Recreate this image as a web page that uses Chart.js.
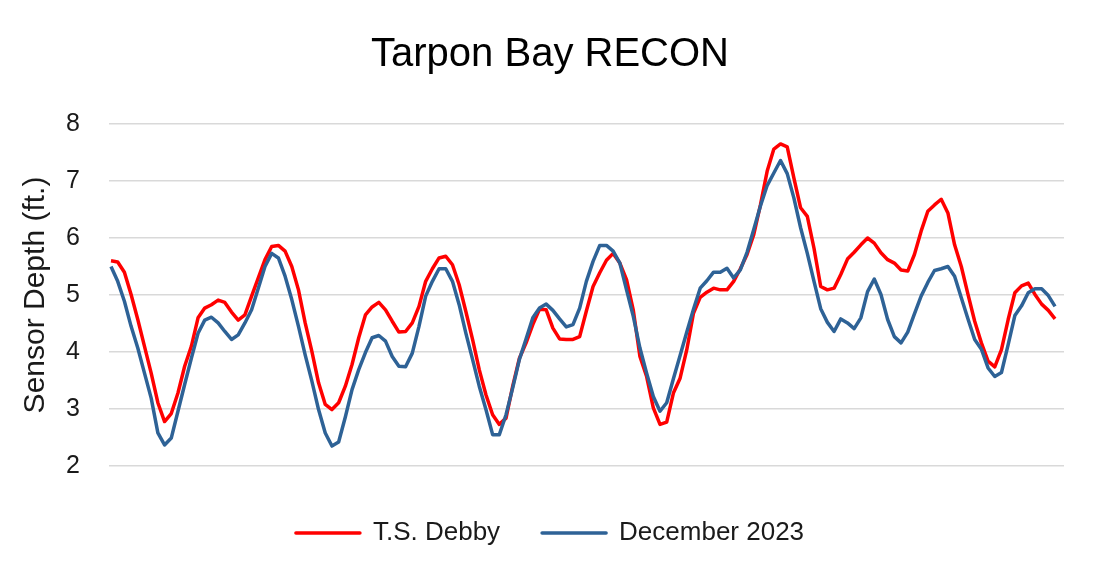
<!DOCTYPE html>
<html lang="en">
<head>
<meta charset="utf-8">
<title>Tarpon Bay RECON</title>
<script src="https://cdn.jsdelivr.net/npm/chart.js@4.4.1/dist/chart.umd.min.js"></script>
<style>
  html, body { margin: 0; padding: 0; background: #fff; }
  #grafico { display: block; }
</style>
</head>
<body>
<canvas id="grafico" width="1100" height="581"></canvas>
<script>
// ── Dados (profundidade do sensor, leitura horária) ─────────────
const tsDebby = [
    5.60, 5.58, 5.40, 5.01, 4.57, 4.10, 3.63, 3.11, 2.78, 2.92,
    3.28, 3.75, 4.10, 4.60, 4.77, 4.83, 4.91, 4.87, 4.70, 4.56,
    4.65, 4.98, 5.30, 5.62, 5.85, 5.87, 5.77, 5.50, 5.09, 4.51,
    4.01, 3.46, 3.08, 2.99, 3.11, 3.40, 3.78, 4.25, 4.65, 4.79,
    4.87, 4.74, 4.54, 4.35, 4.36, 4.51, 4.80, 5.24, 5.46, 5.65,
    5.68, 5.53, 5.18, 4.71, 4.22, 3.69, 3.25, 2.90, 2.73, 2.84,
    3.40, 3.89, 4.16, 4.48, 4.75, 4.74, 4.42, 4.23, 4.22, 4.22,
    4.27, 4.72, 5.15, 5.39, 5.61, 5.73, 5.56, 5.27, 4.74, 3.92,
    3.57, 3.02, 2.73, 2.77, 3.28, 3.54, 4.04, 4.68, 4.96, 5.05,
    5.12, 5.09, 5.09, 5.24, 5.46, 5.71, 6.06, 6.58, 7.17, 7.56,
    7.65, 7.60, 7.05, 6.53, 6.38, 5.82, 5.15, 5.09, 5.12, 5.36,
    5.63, 5.75, 5.88, 6.00, 5.91, 5.74, 5.62, 5.56, 5.44, 5.42,
    5.71, 6.12, 6.47, 6.58, 6.68, 6.44, 5.88, 5.50, 5.01, 4.54,
    4.16, 3.84, 3.74, 4.04, 4.57, 5.04, 5.16, 5.21, 5.01, 4.84,
    4.73, 4.58
];

const dez2023 = [
    5.50, 5.24, 4.89, 4.45, 4.07, 3.63, 3.19, 2.58, 2.37, 2.49,
    2.96, 3.43, 3.89, 4.33, 4.56, 4.61, 4.51, 4.36, 4.22, 4.30,
    4.51, 4.74, 5.12, 5.50, 5.73, 5.65, 5.33, 4.92, 4.45, 3.95,
    3.49, 2.99, 2.58, 2.35, 2.42, 2.86, 3.34, 3.69, 3.99, 4.25,
    4.29, 4.19, 3.92, 3.75, 3.74, 3.98, 4.45, 4.98, 5.24, 5.46,
    5.46, 5.24, 4.83, 4.33, 3.87, 3.40, 2.99, 2.55, 2.55, 2.90,
    3.37, 3.87, 4.23, 4.60, 4.77, 4.84, 4.73, 4.58, 4.44, 4.48,
    4.77, 5.24, 5.59, 5.87, 5.87, 5.77, 5.56, 5.09, 4.63, 4.07,
    3.63, 3.22, 2.96, 3.11, 3.53, 3.94, 4.35, 4.75, 5.12, 5.25,
    5.40, 5.40, 5.47, 5.30, 5.44, 5.75, 6.15, 6.56, 6.92, 7.14,
    7.36, 7.13, 6.70, 6.18, 5.73, 5.24, 4.76, 4.52, 4.36, 4.58,
    4.51, 4.41, 4.60, 5.06, 5.28, 5.01, 4.57, 4.27, 4.16, 4.35,
    4.67, 4.98, 5.22, 5.43, 5.46, 5.50, 5.33, 4.95, 4.58, 4.22,
    4.05, 3.72, 3.57, 3.64, 4.13, 4.64, 4.81, 5.04, 5.11, 5.11,
    4.99, 4.80
];

const nomesSeries = ['T.S. Debby', 'December 2023'];
const ticksY = [2, 3, 4, 5, 6, 7, 8];

Chart.defaults.font.family = "'Liberation Sans', Arial, sans-serif";

// ── Gráfico ─────────────────────────────────────────────────────
function paraPontos(valores) {
    return valores.map((v, i) => ({ x: i, y: v }));
}

const ctx = document.getElementById('grafico').getContext('2d');
new Chart(ctx, {
    type: 'line',
    data: {
        datasets: [{
            label: nomesSeries[0],
            data: paraPontos(tsDebby),
            borderColor: '#ff0000',
            backgroundColor: '#ff0000',
            borderWidth: 3.5,
            borderJoinStyle: 'round',
            pointRadius: 0,
            tension: 0,
            fill: false,
            order: 1
        }, {
            label: nomesSeries[1],
            data: paraPontos(dez2023),
            borderColor: '#2e6296',
            backgroundColor: '#2e6296',
            borderWidth: 3.5,
            borderJoinStyle: 'round',
            pointRadius: 0,
            tension: 0,
            fill: false,
            order: 0
        }]
    },
    options: {
        responsive: false,
        animation: false,
        layout: { padding: { top: 0, bottom: 25, left: 0, right: 0 } },
        plugins: {
            title: {
                display: true,
                text: 'Tarpon Bay RECON',
                color: '#000',
                font: { size: 40, weight: 'normal' },
                padding: { top: 31, bottom: 45 }
            },
            legend: {
                position: 'bottom',
                labels: {
                    boxWidth: 64,
                    boxHeight: 0,
                    padding: 42,
                    color: '#1a1a1a',
                    font: { size: 26 },
                    sort: (a, b) => a.datasetIndex - b.datasetIndex
                }
            },
            tooltip: { enabled: false }
        },
        scales: {
            x: {
                type: 'linear',
                min: -0.3,
                max: 142.34,
                ticks: { display: false },
                grid: { display: false },
                border: { display: false },
                afterFit: s => { s.height = 12; }
            },
            y: {
                min: 2,
                max: 8,
                afterBuildTicks: s => { s.ticks = ticksY.map(v => ({ value: v })); },
                ticks: { padding: 29, color: '#1a1a1a', font: { size: 25 } },
                grid: { color: '#d9d9d9', lineWidth: 1.5, drawTicks: false },
                border: { display: false },
                title: {
                    display: true,
                    text: 'Sensor Depth (ft.)',
                    color: '#1a1a1a',
                    font: { size: 30 },
                    padding: { top: 17.5, bottom: 0 }
                },
                afterFit: s => { s.width = 109; }
            },
            // eixo vazio à direita só para reservar a margem
            yDir: {
                position: 'right',
                ticks: { display: false },
                grid: { display: false },
                border: { display: false },
                afterFit: s => { s.width = 36; }
            }
        }
    }
});
</script>
</body>
</html>
